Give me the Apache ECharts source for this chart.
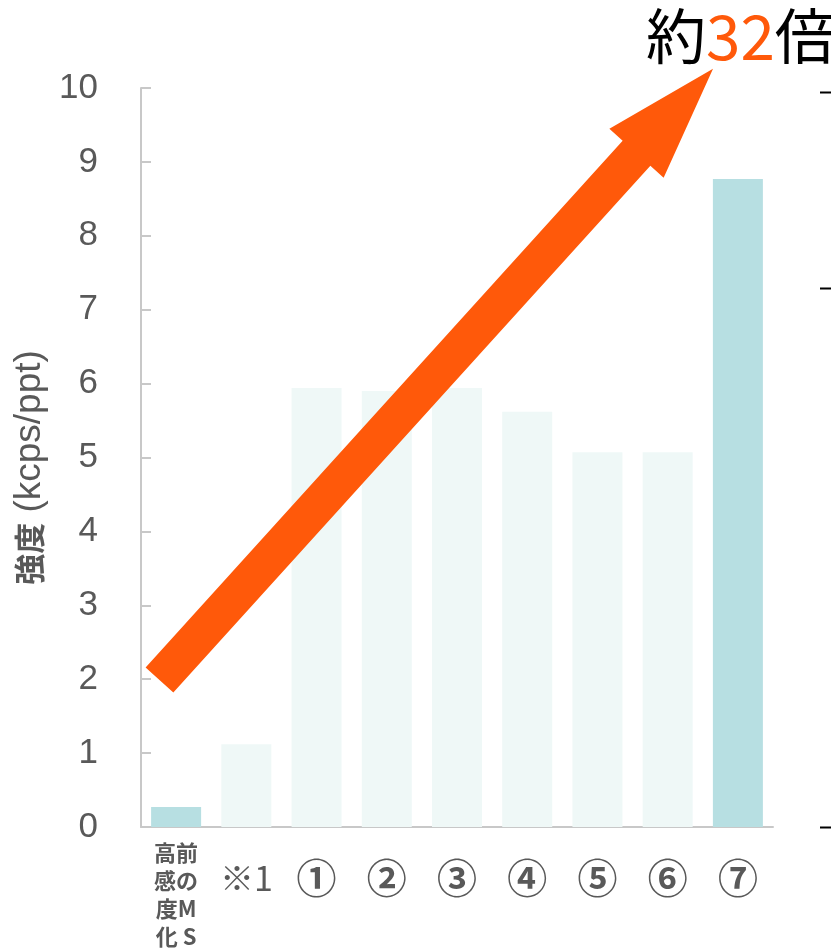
<!DOCTYPE html>
<html>
<head>
<meta charset="utf-8">
<script src="https://cdn.jsdelivr.net/npm/echarts@6/dist/echarts.min.js"></script>
<style>
  html, body { margin: 0; padding: 0; background: #ffffff; }
  #chart { width: 831px; height: 950px; }
</style>
</head>
<body>
<div id="chart"></div>
<script>
// Categories along the x axis
const categories = ['MS', '※1', '①', '②', '③', '④', '⑤', '⑥', '⑦'];
// Signal intensity (kcps/ppt) for each condition
const intensity = [0.27, 1.12, 5.94, 5.90, 5.94, 5.62, 5.07, 5.07, 8.77];
// Which bars are emphasised (baseline and final result)
const highlighted = [true, false, false, false, false, false, false, false, true];
// Value-axis tick labels
const yTicks = [0, 1, 2, 3, 4, 5, 6, 7, 8, 9, 10];
// Arrow annotation: [category position, value] for tail and tip
const arrowFrom = [-0.237, 1.99];
const arrowTo = [7.646, 10.26];
// Headline text parts
const ratioPrefix = '約';
const ratioValue = '32';
const ratioSuffix = '倍';

const GREY = '#595959';
const AXIS = '#c8c8c8';
const ORANGE = '#ff590a';
const CJK = "'Noto Sans CJK JP', 'Noto Sans CJK SC', sans-serif";
const LATIN = "'Liberation Sans', Arial, sans-serif";

const chart = echarts.init(document.getElementById('chart'), null, { renderer: 'canvas' });

const option = {
  animation: false,
  backgroundColor: '#ffffff',
  grid: { left: 141, right: 58, top: 88, bottom: 123, containLabel: false, outerBoundsMode: 'none' },
  xAxis: {
    type: 'category',
    data: categories,
    axisLine: { show: true, lineStyle: { color: AXIS, width: 2 } },
    axisTick: { show: false },
    axisLabel: {
      interval: 0,
      margin: 12,
      formatter: function (v, i) {
        if (i === 0) {
          return '{ms|高前}\n{ms|感の}\n{ms|度M}\n{ms|化 S}';
        }
        if (i === 1) {
          return '{r|' + v + '}';
        }
        return '{c|' + v + '}';
      },
      rich: {
        ms: { fontFamily: CJK, fontWeight: 'bold', fontSize: 22, lineHeight: 28, color: GREY },
        r: { fontFamily: CJK, fontSize: 34, lineHeight: 78, color: GREY },
        c: { fontFamily: CJK, fontWeight: 'bold', fontSize: 40, lineHeight: 78, color: GREY }
      }
    }
  },
  yAxis: {
    type: 'value',
    min: yTicks[0],
    max: yTicks[yTicks.length - 1],
    interval: 1,
    splitLine: { show: false },
    axisLine: { show: true, lineStyle: { color: AXIS, width: 2 } },
    axisTick: { show: true, inside: true, length: 10, lineStyle: { color: AXIS, width: 2 } },
    axisLabel: {
      margin: 43,
      fontFamily: LATIN,
      fontSize: 35,
      color: GREY
    },
    name: '{a|強度}{b| (kcps/ppt)}',
    nameLocation: 'middle',
    nameRotate: 90,
    nameGap: 92,
    nameTextStyle: {
      padding: [0, 20, 0, 0],
      rich: {
        a: { fontFamily: CJK, fontWeight: 'bold', fontSize: 31, color: GREY },
        b: { fontFamily: LATIN, fontSize: 37, color: GREY }
      }
    }
  },
  series: [{
    type: 'bar',
    barWidth: 50,
    data: intensity.map(function (v, i) {
      return {
        value: v,
        itemStyle: { color: highlighted[i] ? '#b7dfe2' : '#eff8f7' }
      };
    })
  }]
};

chart.setOption(option);

// Convert [category position, value] into pixels through the chart's axes
function toPixel(p) {
  const x0 = chart.convertToPixel({ xAxisIndex: 0 }, 0);
  const x1 = chart.convertToPixel({ xAxisIndex: 0 }, 1);
  const y = chart.convertToPixel({ yAxisIndex: 0 }, p[1]);
  return [x0 + p[0] * (x1 - x0), y];
}

function arrowPoints(from, to, shaftHalf, headHalf, headLen) {
  const dx = to[0] - from[0];
  const dy = to[1] - from[1];
  const len = Math.sqrt(dx * dx + dy * dy);
  const ux = dx / len, uy = dy / len;
  const nx = -uy, ny = ux;
  const bx = to[0] - ux * headLen, by = to[1] - uy * headLen;
  return [
    [from[0] + nx * shaftHalf, from[1] + ny * shaftHalf],
    [bx + nx * shaftHalf, by + ny * shaftHalf],
    [bx + nx * headHalf, by + ny * headHalf],
    [to[0], to[1]],
    [bx - nx * headHalf, by - ny * headHalf],
    [bx - nx * shaftHalf, by - ny * shaftHalf],
    [from[0] - nx * shaftHalf, from[1] - ny * shaftHalf]
  ];
}

const tail = toPixel(arrowFrom);
const tip = toPixel(arrowTo);

// Tick marks of the neighbouring axis at the right edge
const rightTickValues = [9.95, 7.3, 0];

chart.setOption({
  graphic: [
    {
      type: 'polygon',
      shape: { points: arrowPoints(tail, tip, 18.7, 36.6, 114) },
      style: { fill: ORANGE },
      z: 100
    },
    {
      type: 'text',
      left: 646,
      top: 5,
      style: {
        text: '{k|' + ratioPrefix + '}{n|' + ratioValue + '}{k|' + ratioSuffix + '}',
        rich: {
          k: { fontFamily: CJK, fontSize: 60, fill: '#000000' },
          n: { fontFamily: CJK, fontSize: 62, fill: ORANGE }
        }
      },
      z: 100
    }
  ].concat(rightTickValues.map(function (v) {
    const y = Math.round(chart.convertToPixel({ yAxisIndex: 0 }, v)) + 0.5;
    return {
      type: 'line',
      shape: { x1: 820, y1: y, x2: 831, y2: y },
      style: { stroke: '#000000', lineWidth: 2 },
      z: 100
    };
  }))
});
</script>
</body>
</html>
